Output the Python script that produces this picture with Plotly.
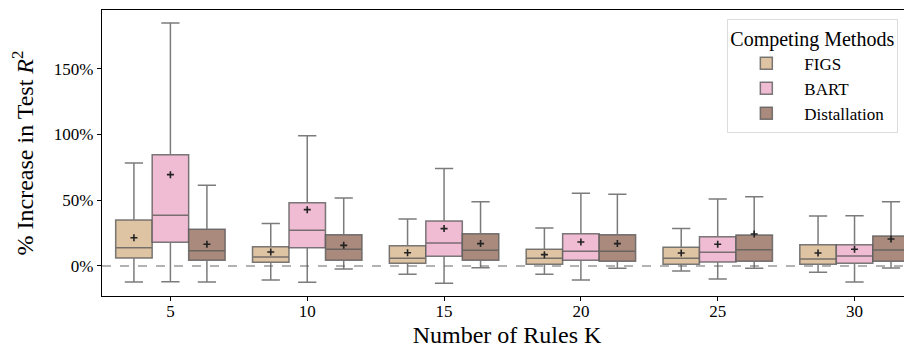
import plotly.graph_objects as go

K_LABELS = ["5", "10", "15", "20", "25", "30"]
METHODS = ["FIGS", "BART", "Distallation"]
COLORS = ["#dfc4a3", "#efbcd3", "#a98a7c"]

# values in percent
figs_low = [-12.2, -10.6, -6.3, -6.3, -3.8, -4.8]
figs_q1 = [6.1, 2.8, 2.0, 1.3, 1.3, 1.3]
figs_med = [13.9, 6.8, 5.8, 5.8, 5.8, 5.3]
figs_q3 = [35.0, 14.7, 15.4, 12.7, 14.2, 16.2]
figs_up = [78.3, 32.2, 35.7, 28.9, 28.4, 38.0]
figs_mean = [21.5, 10.6, 10.1, 8.6, 9.9, 9.9]

bart_low = [-11.9, -12.4, -13.1, -10.6, -9.9, -12.2]
bart_q1 = [18.0, 13.9, 7.4, 4.3, 3.0, 2.0]
bart_med = [38.5, 27.1, 17.5, 11.2, 10.4, 7.6]
bart_q3 = [84.6, 48.1, 34.2, 24.5, 22.3, 16.2]
bart_up = [184.7, 99.0, 74.0, 55.2, 50.9, 38.2]
bart_mean = [69.4, 42.8, 28.4, 18.2, 16.5, 12.7]

dist_low = [-12.2, -2.3, -1.3, -1.7, -1.7, -1.5]
dist_q1 = [4.3, 4.3, 4.3, 3.6, 3.6, 3.6]
dist_med = [11.6, 12.7, 11.9, 11.2, 12.4, 12.2]
dist_q3 = [27.9, 23.8, 24.5, 23.8, 23.6, 22.8]
dist_up = [61.3, 51.7, 48.9, 54.5, 52.7, 48.9]
dist_mean = [16.5, 15.7, 17.0, 17.0, 24.3, 20.5]

Y_TICKS = [0, 50, 100, 150]
Y_TICK_TEXT = ["0%", "50%", "100%", "150%"]

series = [
    (figs_low, figs_q1, figs_med, figs_q3, figs_up, figs_mean),
    (bart_low, bart_q1, bart_med, bart_q3, bart_up, bart_mean),
    (dist_low, dist_q1, dist_med, dist_q3, dist_up, dist_mean),
]

FONT = "Liberation Serif"
EDGE = "rgba(90,90,90,0.8)"

fig = go.Figure()
for name, color, (lo, q1, med, q3, up, mean) in zip(METHODS, COLORS, series):
    fig.add_trace(go.Box(
        name=name, x=K_LABELS, q1=q1, median=med, q3=q3,
        lowerfence=lo, upperfence=up,
        fillcolor=color, line=dict(color=EDGE, width=1.5),
        whiskerwidth=0.5, boxpoints=False, offsetgroup=name,
        legendgroup=name, showlegend=True,
    ))
for name, (lo, q1, med, q3, up, mean) in zip(METHODS, series):
    fig.add_trace(go.Scatter(
        x=K_LABELS, y=mean, mode="markers", offsetgroup=name,
        marker=dict(symbol="cross-thin", size=5, line=dict(color="#222", width=1.6), color="#222"),
        showlegend=False, legendgroup=name, hoverinfo="y",
    ))

fig.add_hline(y=0, line=dict(color="#999999", width=1.5, dash="dash"), layer="below")

fig.update_layout(
    width=904, height=340,
    margin=dict(l=94, r=0, t=2, b=52, autoexpand=False),
    paper_bgcolor="white", plot_bgcolor="white",
    boxmode="group", boxgap=0.2, boxgroupgap=0,
    scattermode="group", scattergap=0.2,
    font=dict(family=FONT, color="black"),
    xaxis=dict(
        type="category", range=[-0.5, 5.42],
        showline=True, linecolor="black", linewidth=1.2, mirror=True,
        ticks="outside", ticklen=4, tickcolor="black",
        tickfont=dict(size=17, family=FONT), showgrid=False,
        ticklabelstandoff=-5,
        title=dict(text="Number of Rules K", font=dict(size=24, family=FONT), standoff=6),
    ),
    yaxis=dict(
        range=[-22.8, 194.5], tickvals=Y_TICKS, ticktext=Y_TICK_TEXT,
        showline=True, linecolor="black", linewidth=1.2, mirror=True,
        ticks="outside", ticklen=4, tickcolor="black",
        tickfont=dict(size=17, family=FONT), showgrid=False, zeroline=False,
        title=dict(text="% Increase in Test <i>R</i><sup>2</sup>", font=dict(size=24, family=FONT), standoff=16),
    ),
    legend=dict(
        x=0.772, y=0.97, xanchor="left", yanchor="top",
        title=dict(text="Competing Methods", font=dict(size=20, family=FONT)),
        font=dict(size=17, family=FONT), bgcolor="white",
        bordercolor="#dddddd", borderwidth=1, tracegroupgap=0,
        itemwidth=66,
    ),
)

fig.write_html("out.html")
